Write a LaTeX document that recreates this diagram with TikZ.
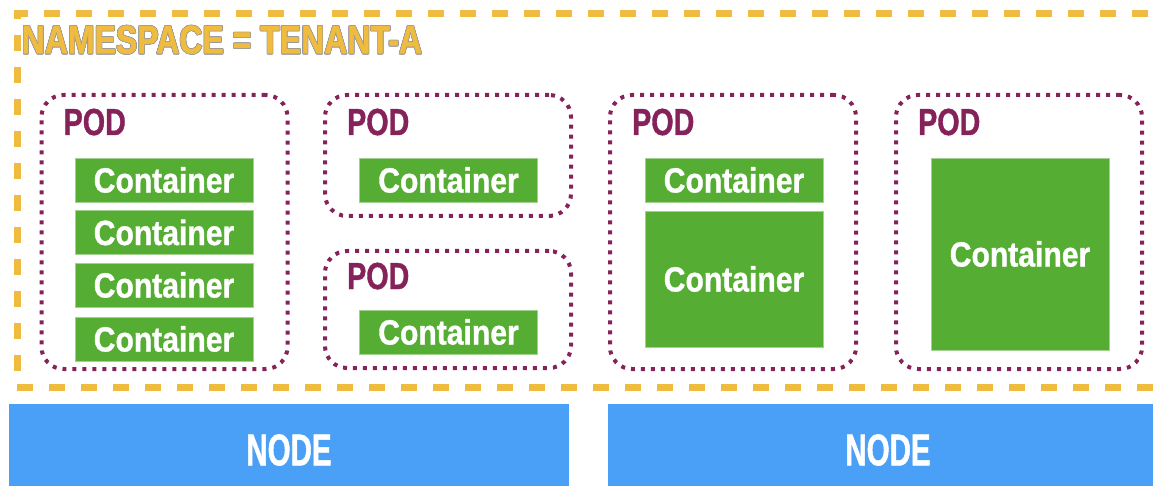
\documentclass[tikz,border=0pt]{standalone}
\usepackage{fontspec}
\usepackage{contour}
\newfontfamily\nsfont[FakeStretch=0.80,FakeBold=1]{Liberation Sans}
\newfontfamily\podfont[FakeStretch=0.76,FakeBold=1]{Liberation Sans}
\newfontfamily\ctrfont[FakeStretch=0.86,FakeBold=1]{Liberation Sans}
\newfontfamily\hostfont[FakeStretch=0.66,FakeBold=1]{Liberation Sans}
\definecolor{nsyellow}{HTML}{F0BC3F}
\definecolor{podred}{HTML}{86225A}
\definecolor{ctrgreen}{HTML}{55AE33}
\definecolor{hostblue}{HTML}{4A9FF6}
\contourlength{0.6pt}
\begin{document}
\begin{tikzpicture}
[x=1pt,y=-1pt,
ns/.style={draw=nsyellow,line width=7pt,dash pattern=on 16pt off 16pt,inner sep=0pt},
nslbl/.style={anchor=base west,inner sep=0pt,text=nsyellow,font=\nsfont\bfseries\fontsize{40}{43}\selectfont},
pod/.style={draw=podred,line width=4pt,dash pattern=on 4pt off 6pt,rounded corners=22pt,minimum width=246pt,inner sep=0pt},
podlbl/.style={anchor=base west,inner sep=0pt,text=podred,font=\podfont\bfseries\fontsize{37.7}{40}\selectfont},
c/.style={fill=ctrgreen,draw=ctrgreen!55!white,line width=0.6pt,minimum width=178pt,minimum height=44pt,inner sep=0pt,text=white,font=\ctrfont\bfseries\fontsize{35}{38}\selectfont},
host/.style={fill=hostblue,minimum width=560pt,minimum height=92pt,inner sep=0pt,text=white,font=\hostfont\bfseries\fontsize{44.7}{48}\selectfont}]
\useasboundingbox (0,0) rectangle (1153,486);\clip (0,0) rectangle (1153,486);
% namespace frame and label
\node[ns,minimum width=1163pt,minimum height=373pt](ns) at (598.5,200.5){};
\node[nslbl](nsl) at ([xshift=8pt,yshift=-43pt]ns.north west){\contour{gray!80}{NAMESPACE = TENANT-A}};
% pods
\node[pod,minimum height=274pt](p1) at (164.5,232){};\node[pod,minimum height=121pt](p2) at (448,155.5){};
\node[pod,minimum height=117pt](p3) at (448,309.5){};\node[pod,minimum height=274pt](p4) at (733,232){};
\node[pod,minimum height=274pt](p5) at (1019,232){};
\foreach \p/\d in {p1/42,p2/42,p3/40,p4/42,p5/42}
  \node[podlbl](l\p) at ([xshift=24pt,yshift=-\d pt]\p.north west){POD};
% containers
\node[c](c11) at (164,180){Container};\node[c](c12) at (164,232.5){Container};
\node[c](c13) at (164,285){Container};\node[c](c14) at (164,339){Container};
\node[c](c21) at (448.5,180){Container};\node[c](c31) at (448.5,332){Container};
\node[c](c41) at (734,180){Container};\node[c,minimum height=136pt](c42) at (734,279){Container};
\node[c,minimum height=192pt](c51) at (1020,254){Container};
% hosts
\node[host](h1) at (289,450){NODE};\node[host](h2) at (888,450){NODE};
\end{tikzpicture}
\end{document}
